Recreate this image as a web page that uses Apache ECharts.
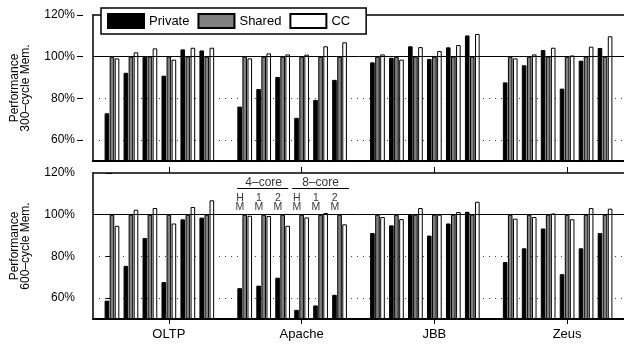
<!DOCTYPE html>
<html>
<head>
<meta charset="utf-8">
<script src="https://cdn.jsdelivr.net/npm/echarts@6/dist/echarts.min.js"></script>
<style>
  html, body { margin: 0; padding: 0; background: #fff; }
  #chart { width: 624px; height: 346px; }
</style>
</head>
<body>
<div id="chart"></div>
<script>
// groups of workloads, 6 configs each (4-core HM/1M/2M, 8-core HM/1M/2M)
const groups = ['OLTP', 'Apache', 'JBB', 'Zeus']
const configs = ['H\nM', '1\nM', '2\nM', 'H\nM', '1\nM', '2\nM']
const coreLabels = ['4–core', '8–core']
const yTicks = [60, 80, 100, 120]

// 300-cycle memory
const private300 = [72.9, 92.3, 100, 90.9, 103.5, 103,
  76.1, 84.5, 90.3, 70.7, 79.3, 88.9,
  97.3, 99.5, 105, 98.9, 104.5, 110.2,
  87.7, 95.9, 103.2, 84.7, 98.1, 104.2]
const shared300 = [100, 100, 100, 100, 100, 100,
  100, 100, 100, 100, 100, 100,
  100, 100, 100, 100, 100, 100,
  100, 100, 100, 100, 100, 100]
const cc300 = [99.2, 102.1, 104, 98.6, 104.3, 104.3,
  99.2, 101.6, 101.1, 101, 105, 106.9,
  101.1, 98.6, 104.6, 102.7, 105.6, 110.9,
  99.2, 101.1, 104.3, 100.6, 104.8, 109.8]

// 600-cycle memory
const private600 = [58.8, 75.5, 88.8, 67.7, 97.8, 98.6,
  64.8, 66, 69.8, 54.4, 56.5, 61.6,
  91.2, 94.9, 100, 90, 95.8, 101.4,
  77.3, 83.9, 93.4, 71.5, 83.9, 91.2]
const shared600 = [100, 100, 100, 100, 100, 100,
  100, 100, 100, 100, 100, 100,
  100, 100, 100, 100, 100, 100,
  100, 100, 100, 100, 100, 100]
const cc600 = [94.7, 102.4, 103.2, 95.8, 103.7, 106.9,
  99.5, 99.4, 94.7, 98.7, 100.8, 95.4,
  98.9, 97.9, 103.2, 100, 101.3, 106.2,
  98.1, 98.9, 100.6, 97.8, 103.2, 102.9]

// slot layout: 7 slots per group (6 bars clusters + 1 gap), plus one empty slot at the start
const perGroup = 7
const nSlots = groups.length * perGroup + 1
const slotNames = []
for (let i = 0; i < nSlots; i++) slotNames.push('s' + (i - 1))
const slotOf = (g, c) => g * perGroup + c // slot number (value axis units)
const centerIdx = groups.map((g, i) => slotOf(i, 3) + 1)

const toSlots = (vals) => {
  const out = new Array(nSlots).fill(null)
  groups.forEach((g, gi) => {
    configs.forEach((c, ci) => { out[slotOf(gi, ci) + 1] = vals[gi * 6 + ci] })
  })
  return out
}

const font = 'Liberation Sans, Arial, sans-serif'

const catAxis = (grid, pos, extra) => Object.assign({
  type: 'category', gridIndex: grid, position: pos, data: slotNames,
  boundaryGap: false,
  axisLine: { show: true, lineStyle: { color: '#000', width: 1.5 } },
  axisTick: { show: false },
  axisLabel: { show: false },
  splitLine: { show: false },
}, extra)

const valAxis = (grid, withLabels, name) => ({
  type: 'value', gridIndex: grid, position: 'left', min: 50, max: 120, startValue: 50,
  offset: withLabels ? 10 : 0,
  name: withLabels ? name : '',
  nameLocation: 'middle', nameRotate: 90, nameGap: 52,
  nameTextStyle: { fontFamily: font, fontSize: 12, lineHeight: 11, color: '#000' },
  axisLine: { show: !withLabels, lineStyle: { color: '#000', width: 1.5 } },
  axisTick: withLabels ? { show: true, length: 6, customValues: yTicks, lineStyle: { color: '#000' } } : { show: false },
  axisLabel: withLabels ? {
    show: true, customValues: yTicks, margin: 8, fontFamily: font, fontSize: 12, color: '#000',
    formatter: (v) => v + '%'
  } : { show: false },
  splitLine: { show: false },
})

const barStyle = [
  { name: 'Private', color: '#000' },
  { name: 'Shared', color: '#808080' },
  { name: 'CC', color: '#fff' },
]

const panelSeries = (p, vals) => vals.map((v, i) => {
  const s = {
    type: 'bar', name: barStyle[i].name, xAxisIndex: p * 2, yAxisIndex: p * 2,
    data: toSlots(v), barWidth: 4.6, barGap: '10%',
    itemStyle: { color: barStyle[i].color, borderColor: '#000', borderWidth: 1 },
    emphasis: { disabled: true },
  }
  if (i === 0) {
    s.markLine = {
      silent: true, symbol: 'none', label: { show: false },
      lineStyle: { color: '#000', width: 1, type: 'solid' },
      data: [{ yAxis: 100 }],
    }
  }
  if (i === 1) {
    s.markLine = {
      silent: true, symbol: 'none', label: { show: false }, z: 1,
      lineStyle: { color: '#444', width: 1, type: [1, 5] },
      data: [{ yAxis: 60 }, { yAxis: 80 }],
    }
  }
  return s
})

const chart = echarts.init(document.getElementById('chart'), null, { renderer: 'canvas' })

const annoText = configs.map((c, ci) => [slotOf(1, ci) - 0.25, 106.0, c])
const coreText = coreLabels.map((c, i) => [slotOf(1, i * 3 + 1), 115.5, c])

const option = {
  animation: false,
  backgroundColor: '#fff',
  textStyle: { fontFamily: font },
  grid: [
    { left: 93, top: 15, width: 534, height: 146 },
    { left: 93, top: 173, width: 534, height: 146 },
  ],
  legend: {
    data: ['Private', 'Shared', 'CC'],
    left: 101, top: 8, itemWidth: 36, itemHeight: 14, itemGap: 8,
    padding: [5, 16, 5, 6],
    backgroundColor: '#fff', borderColor: '#000', borderWidth: 1.5,
    icon: 'rect', selectedMode: false,
    textStyle: { fontFamily: font, fontSize: 13, color: '#000' },
  },
  xAxis: [
    catAxis(0, 'bottom', { axisLine: { show: true, lineStyle: { color: '#000', width: 2 } } }),
    catAxis(0, 'top'),
    catAxis(1, 'bottom', {
      axisLine: { show: true, lineStyle: { color: '#000', width: 2 } },
      axisTick: { show: true, length: 5, interval: (i) => centerIdx.includes(i), lineStyle: { color: '#000' } },
      axisLabel: {
        show: true, interval: (i) => centerIdx.includes(i), margin: 9,
        fontFamily: font, fontSize: 13, color: '#000',
        formatter: (v, i) => { const k = centerIdx.indexOf(i); return k >= 0 ? groups[k] : '' },
      },
    }),
    catAxis(1, 'top', {
      axisTick: { show: true, length: 6, interval: (i) => centerIdx.includes(i), lineStyle: { color: '#000' } },
    }),
    { type: 'value', gridIndex: 1, min: -1, max: nSlots - 2, show: false },
  ],
  yAxis: [
    valAxis(0, true, 'Performance\n300–cycle Mem.'),
    valAxis(0, false),
    valAxis(1, true, 'Performance\n600–cycle Mem.'),
    valAxis(1, false),
  ],
  series: [
    ...panelSeries(0, [private300, shared300, cc300]),
    ...panelSeries(1, [private600, shared600, cc600]),
    {
      type: 'scatter', xAxisIndex: 4, yAxisIndex: 2, symbolSize: 0, silent: true,
      data: annoText,
      label: { show: true, position: 'inside', formatter: (p) => p.data[2], fontFamily: font, fontSize: 10.5, lineHeight: 9, color: '#000' },
      markLine: {
        silent: true, symbol: 'none', label: { show: false },
        lineStyle: { color: '#000', width: 1, type: 'solid' },
        data: [
          [{ coord: [slotOf(1, 0) - 0.4, 112.6] }, { coord: [slotOf(1, 2) + 0.3, 112.6] }],
          [{ coord: [slotOf(1, 3) - 0.5, 112.6] }, { coord: [slotOf(1, 5) + 0.5, 112.6] }],
        ],
      },
    },
    {
      type: 'scatter', xAxisIndex: 4, yAxisIndex: 2, symbolSize: 0, silent: true,
      data: coreText,
      label: { show: true, position: 'inside', formatter: (p) => p.data[2], fontFamily: font, fontSize: 12, color: '#000' },
    },
  ],
}

chart.setOption(option)
</script>
</body>
</html>
